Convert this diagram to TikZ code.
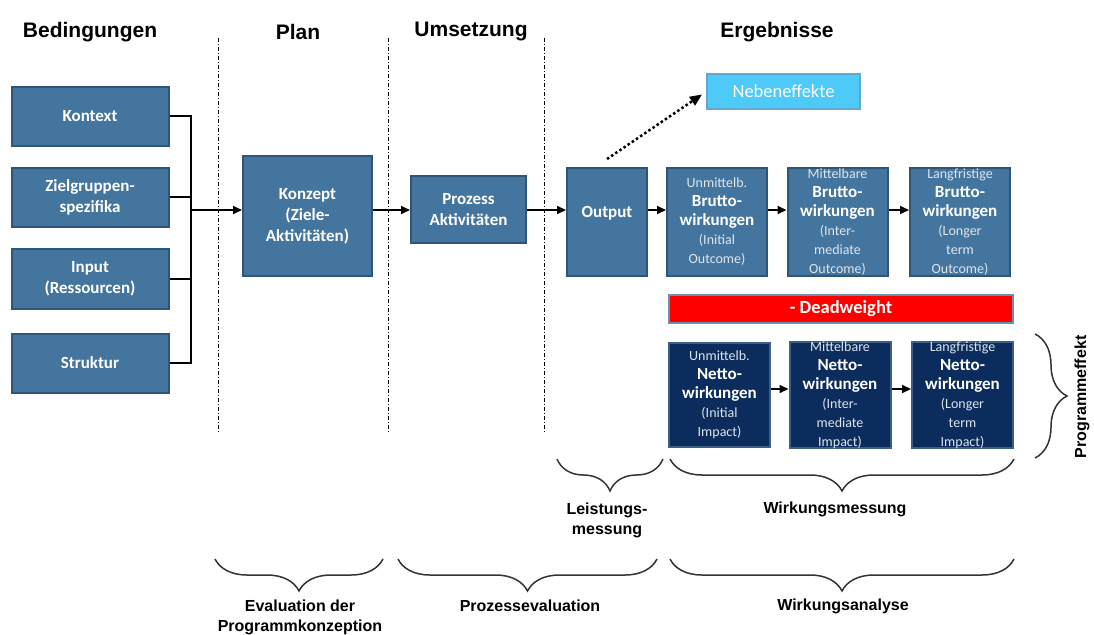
\documentclass[tikz,border=0pt]{standalone}
\usepackage{fontspec}
\setmainfont{Carlito}
\newfontfamily\arialfont{Liberation Sans}
\usetikzlibrary{arrows.meta,decorations.pathreplacing}

\definecolor{boxblue}{HTML}{44759F}
\definecolor{boxedge}{HTML}{2F5577}
\definecolor{nettoblue}{HTML}{0B2C5C}
\definecolor{nettoedge}{HTML}{3D5F86}
\definecolor{sidecyan}{HTML}{4DCAF7}
\definecolor{sideedge}{HTML}{62A6D1}
\definecolor{softwhite}{HTML}{DDE5EE}
\definecolor{bracegray}{HTML}{333333}

\newcommand{\lighttext}[1]{{\mdseries\fontsize{14}{19}\selectfont\color{softwhite}#1}}

\tikzset{
  stepbox/.style    = {shape=rectangle, draw=boxedge, line width=2pt,
                       fill=boxblue, text=white, align=center, inner sep=0pt,
                       font=\fontsize{17}{21}\selectfont\bfseries},
  cond/.style       = {stepbox, minimum width=157pt, minimum height=59pt},
  gross/.style      = {stepbox, minimum width=100pt, minimum height=108pt,
                       font=\fontsize{17}{19}\selectfont\bfseries},
  netto/.style      = {gross, fill=nettoblue, draw=nettoedge,
                       minimum width=101pt, minimum height=104pt},
  deadweight/.style = {stepbox, fill=red, draw=boxblue!80,
                       minimum width=344pt, minimum height=28pt,
                       font=\fontsize{18.5}{20}\selectfont\bfseries},
  sideeffect/.style = {stepbox, fill=sidecyan, draw=sideedge,
                       minimum width=153pt, minimum height=35pt,
                       font=\fontsize{18.5}{20}\selectfont},
  phase/.style      = {font=\arialfont\bfseries\fontsize{21}{24}\selectfont},
  caption/.style    = {align=center, font=\arialfont\bfseries\fontsize{16}{20}\selectfont},
  wire/.style       = {draw, line width=2pt},
  flow/.style       = {wire, -{Triangle[length=9pt, width=8pt]}},
  hint/.style       = {draw, line width=2.5pt, dash pattern=on 2.5pt off 2.5pt,
                       -{Triangle[length=12pt, width=10pt]}},
  divider/.style    = {draw, line width=1pt,
                       dash pattern=on 4pt off 2pt on 1pt off 2pt},
  curly/.style      = {draw=bracegray, line width=1.5pt, decorate,
                       decoration={brace, amplitude=32pt}},
  curlydown/.style  = {curly, decoration={brace, mirror, amplitude=32pt}}
}

\begin{document}
\begin{tikzpicture}[x=1pt, y=-1pt]
  \useasboundingbox (0,0) rectangle (1094,634);

  % phases
  \node [phase] (hbed)  at (90,32)  {Bedingungen};
  \node [phase] (hplan) at (298,32) {Plan};
  \node [phase] (humt)  at (471,32) {Umsetzung};
  \node [phase] (herg)  at (777,32) {Ergebnisse};
  \foreach \x in {218,388,544}
    \draw [divider] (\x,38) -- (\x,432);

  % conditions
  \node [cond] (kontext) at (90,116) {Kontext};
  \node [cond] (ziel)    at (90,197) {Zielgruppen-\\spezifika};
  \node [cond, minimum height=60pt] (input) at (90,279) {Input\\(Ressourcen)};
  \node [cond] (struktur) at (90,363) {Struktur};

  % plan and process
  \node [stepbox, minimum width=129pt, minimum height=120pt] (konzept)
    at (307.5,216) {Konzept\\(Ziele-\\Aktivitäten)};
  \node [stepbox, minimum width=115pt, minimum height=67pt] (prozess)
    at (468.5,209.5) {Prozess\\Aktivitäten};
  \node [stepbox, minimum width=80pt, minimum height=108pt,
         text height=12pt, text depth=22pt] (output) at (607,222) {Output};

  % gross effects
  \node [gross] (gross1) at (717,222)
    {\lighttext{Unmittelb.}\\Brutto-\\wirkungen\\\lighttext{(Initial}\\\lighttext{Outcome)}};
  \node [gross] (gross2) at (837.5,222)
    {\lighttext{Mittelbare}\\Brutto-\\wirkungen\\\lighttext{(Inter-}\\\lighttext{mediate}\\\lighttext{Outcome)}};
  \node [gross] (gross3) at (960,222)
    {\lighttext{Langfristige}\\Brutto-\\wirkungen\\\lighttext{(Longer}\\\lighttext{term}\\\lighttext{Outcome)}};

  \node [deadweight] (dead) at (841,309) {- Deadweight};

  % net effects
  \node [netto] (net1) at (719.5,395)
    {\lighttext{Unmittelb.}\\Netto-\\wirkungen\\\lighttext{(Initial}\\\lighttext{Impact)}};
  \node [netto] (net2) at (840,395)
    {\lighttext{Mittelbare}\\Netto-\\wirkungen\\\lighttext{(Inter-}\\\lighttext{mediate}\\\lighttext{Impact)}};
  \node [netto] (net3) at (962.5,395)
    {\lighttext{Langfristige}\\Netto-\\wirkungen\\\lighttext{(Longer}\\\lighttext{term}\\\lighttext{Impact)}};

  \node [sideeffect] (side) at (783.5,91.5) {Nebeneffekte};

  % connectors
  \coordinate (bus) at (191,210);
  \coordinate (netrow) at (0,389);
  \draw [wire] (kontext.east) -- (kontext.east -| bus)
               -- (struktur.east -| bus) -- (struktur.east);
  \draw [wire] (ziel.east) -- (ziel.east -| bus);
  \draw [wire] (input.east) -- (input.east -| bus);
  \draw [flow] (bus) -- (bus -| konzept.west);
  \draw [flow] (konzept.east |- bus) -- (prozess.west |- bus);
  \draw [flow] (prozess.east |- bus) -- (output.west |- bus);
  \draw [flow] (output.east |- bus) -- (gross1.west |- bus);
  \draw [flow] (gross1.east |- bus) -- (gross2.west |- bus);
  \draw [flow] (gross2.east |- bus) -- (gross3.west |- bus);
  \draw [flow] (net1.east |- netrow) -- (net2.west |- netrow);
  \draw [flow] (net2.east |- netrow) -- (net3.west |- netrow);
  \draw [hint] ([yshift=8pt]output.north) -- ([xshift=-4pt, yshift=-3pt]side.west);

  % braces
  \draw [curlydown] (557,459) -- (663,459);
  \draw [curlydown] (670,459) -- (1014,459);
  \draw [curlydown] (215,559) -- (383,559);
  \draw [curlydown] (398,559) -- (657,559);
  \draw [curlydown] (670,559) -- (1014,559);
  \draw [curly] (1035,334) -- (1035,458);

  \node [caption] (leist)  at (607,520) {Leistungs-\\messung};
  \node [caption] (wmess)  at (835,509) {Wirkungsmessung};
  \node [caption] (evalpk) at (300,617) {Evaluation der\\Programmkonzeption};
  \node [caption] (proev)  at (530,606) {Prozessevaluation};
  \node [caption] (wanal)  at (843,606) {Wirkungsanalyse};
  \node [caption, rotate=90] (progeff) at (1082,397) {Programmeffekt};
\end{tikzpicture}
\end{document}
